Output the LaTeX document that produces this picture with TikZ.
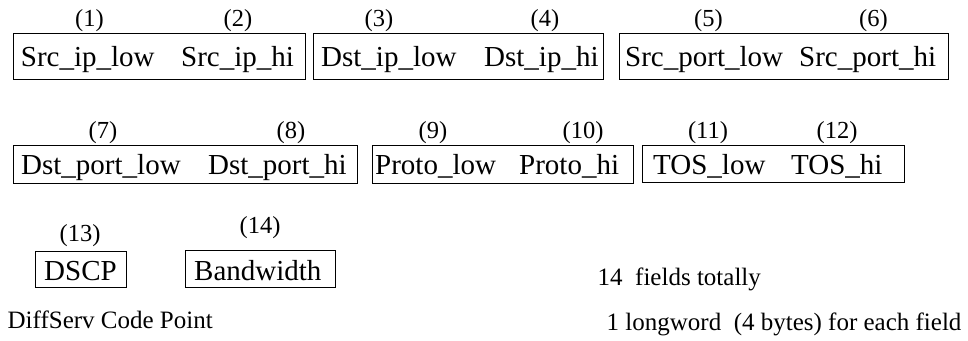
\documentclass[tikz,border=0pt]{standalone}
\usepackage{fontspec}
\setmainfont{Liberation Serif}
\begin{document}
\begin{tikzpicture}[x=1pt,y=-1pt,
  fieldbox/.style={draw,line width=1.2pt,inner sep=0pt,anchor=north west},
  fieldtxt/.style={inner sep=0pt,anchor=base west,font=\fontsize{29}{30}\selectfont},
  numlbl/.style={inner sep=0pt,anchor=base,font=\fontsize{24.5}{26}\selectfont},
  note/.style={inner sep=0pt,anchor=base west,font=\fontsize{25}{26}\selectfont}]
\useasboundingbox (0,0) rectangle (968,340);
% row 1 boxes
\node[fieldbox,minimum width=292.3pt,minimum height=46pt] (b1) at (12.7,33) {};
\node[fieldbox,minimum width=290.3pt,minimum height=46pt] (b2) at (312.7,33) {};
\node[fieldbox,minimum width=329pt,minimum height=46pt] (b3) at (619,33) {};
% row 2 boxes
\node[fieldbox,minimum width=344.3pt,minimum height=38pt] (b4) at (12.7,145) {};
\node[fieldbox,minimum width=261pt,minimum height=38pt] (b5) at (372,145) {};
\node[fieldbox,minimum width=262pt,minimum height=37pt] (b6) at (642,145) {};
% row 3 boxes
\node[fieldbox,minimum width=91pt,minimum height=36pt] (b7) at (35,251) {};
\node[fieldbox,minimum width=150pt,minimum height=37pt] (b8) at (185,250) {};
% row 1 texts
\node[fieldtxt] (t1) at (20.7,66) {Src\_ip\_low};
\node[fieldtxt] (t2) at (181,66) {Src\_ip\_hi};
\node[fieldtxt] (t3) at (321,66) {Dst\_ip\_low};
\node[fieldtxt] (t4) at (484,66) {Dst\_ip\_hi};
\node[fieldtxt] (t5) at (625,66) {Src\_port\_low};
\node[fieldtxt] (t6) at (799,66) {Src\_port\_hi};
% row 2 texts
\node[fieldtxt] (t7) at (21,174.5) {Dst\_port\_low};
\node[fieldtxt] (t8) at (208,174.5) {Dst\_port\_hi};
\node[fieldtxt] (t9) at (375,174.5) {Proto\_low};
\node[fieldtxt] (t10) at (519,174.5) {Proto\_hi};
\node[fieldtxt] (t11) at (653,174.5) {TOS\_low};
\node[fieldtxt] (t12) at (791,174.5) {TOS\_hi};
% row 3 texts
\node[fieldtxt] (t13) at (44,280) {DSCP};
\node[fieldtxt] (t14) at (194,280) {Bandwidth};
% number labels
\node[numlbl] (n1) at (89.5,26) {(1)};
\node[numlbl] (n2) at (238,26) {(2)};
\node[numlbl] (n3) at (379,26) {(3)};
\node[numlbl] (n4) at (545,26) {(4)};
\node[numlbl] (n5) at (708.5,26) {(5)};
\node[numlbl] (n6) at (873.5,26) {(6)};
\node[numlbl] (n7) at (103,138) {(7)};
\node[numlbl] (n8) at (291,138) {(8)};
\node[numlbl] (n9) at (433,138) {(9)};
\node[numlbl] (n10) at (583,138) {(10)};
\node[numlbl] (n11) at (708,138) {(11)};
\node[numlbl] (n12) at (837,138) {(12)};
\node[numlbl] (n13) at (80,241) {(13)};
\node[numlbl] (n14) at (260,233) {(14)};
% notes
\node[note] (d1) at (7.5,328) {DiffServ Code Point};
\node[note] (d2) at (597.5,285) {14\ \ fields totally};
\node[note] (d3) at (606.5,330) {1 longword\ \ (4 bytes) for each field};
\end{tikzpicture}
\end{document}
